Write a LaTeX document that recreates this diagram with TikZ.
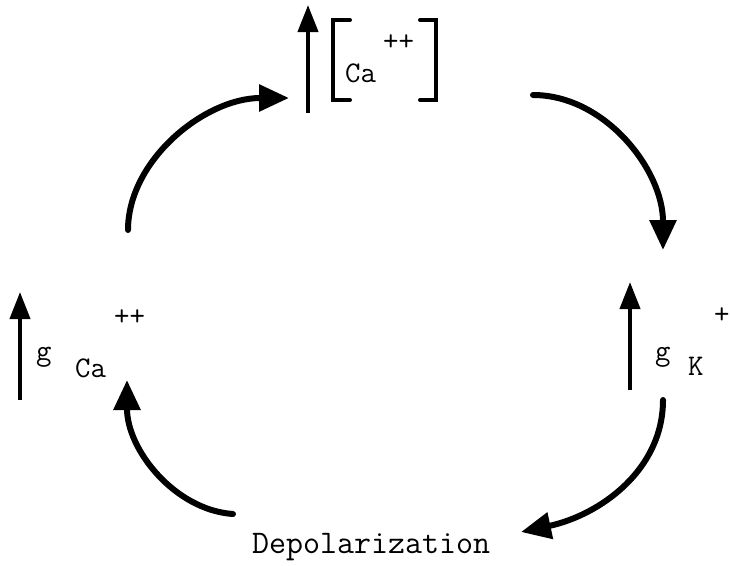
\documentclass[tikz,border=0pt]{standalone}
\usetikzlibrary{arrows.meta}
\begin{document}
\begin{tikzpicture}[x=1pt,y=-1pt,
  lbl/.style={inner sep=0pt,anchor=base west,font=\fontsize{30}{36}\selectfont\ttfamily},
  biglbl/.style={inner sep=0pt,anchor=base west,font=\fontsize{33}{39}\selectfont\ttfamily},
  uparrow/.style={line width=4pt,-{Triangle[length=27pt,width=20pt]}},
  cycarrow/.style={line width=6pt,line cap=round,-{Triangle[length=30pt,width=26pt]}},
  brack/.style={line width=4pt,line cap=round,line join=miter}]
\useasboundingbox (0,0) rectangle (730,565);
% top group
\coordinate (ta0) at (308,113);
\coordinate (ta1) at (308,5);
\draw[uparrow] (ta0) -- (ta1);
\coordinate (lb) at (333,20);
\draw[brack] (350,20) -- (lb) -- (333,100) -- (350,100);
\coordinate (rb) at (436,20);
\draw[brack] (420,20) -- (rb) -- (436,100) -- (420,100);
\node[lbl] (caT) at (345,82) {Ca};
\node[lbl] (ppT) at (383,50) {++};
% left group
\coordinate (la0) at (20,400);
\coordinate (la1) at (20,292);
\draw[uparrow] (la0) -- (la1);
\node[lbl] (gL) at (36,360) {g};
\node[lbl] (caL) at (75,377) {Ca};
\node[lbl] (ppL) at (114,325) {++};
% right group
\coordinate (ra0) at (630,390);
\coordinate (ra1) at (630,282);
\draw[uparrow] (ra0) -- (ra1);
\node[lbl] (gR) at (655,360) {g};
\node[lbl] (kR) at (688,375) {K};
\node[lbl] (pR) at (714,323) {+};
% bottom
\node[biglbl] (dep) at (252,553) {Depolarization};
% cycle arrows
\coordinate (c1s) at (128,230);
\coordinate (c1e) at (289,98);
\draw[cycarrow] (c1s) .. controls (128,160) and (205,98) .. (c1e);
\coordinate (c2s) at (533,95);
\coordinate (c2e) at (663,250);
\draw[cycarrow] (c2s) .. controls (605,95) and (663,170) .. (c2e);
\coordinate (c3s) at (663,400);
\coordinate (c3e) at (521,532);
\draw[cycarrow] (c3s) .. controls (663,470) and (600,515) .. (c3e);
\coordinate (c4s) at (233,514);
\coordinate (c4e) at (127,380);
\draw[cycarrow] (c4s) .. controls (175,510) and (127,450) .. (c4e);
\end{tikzpicture}
\end{document}
